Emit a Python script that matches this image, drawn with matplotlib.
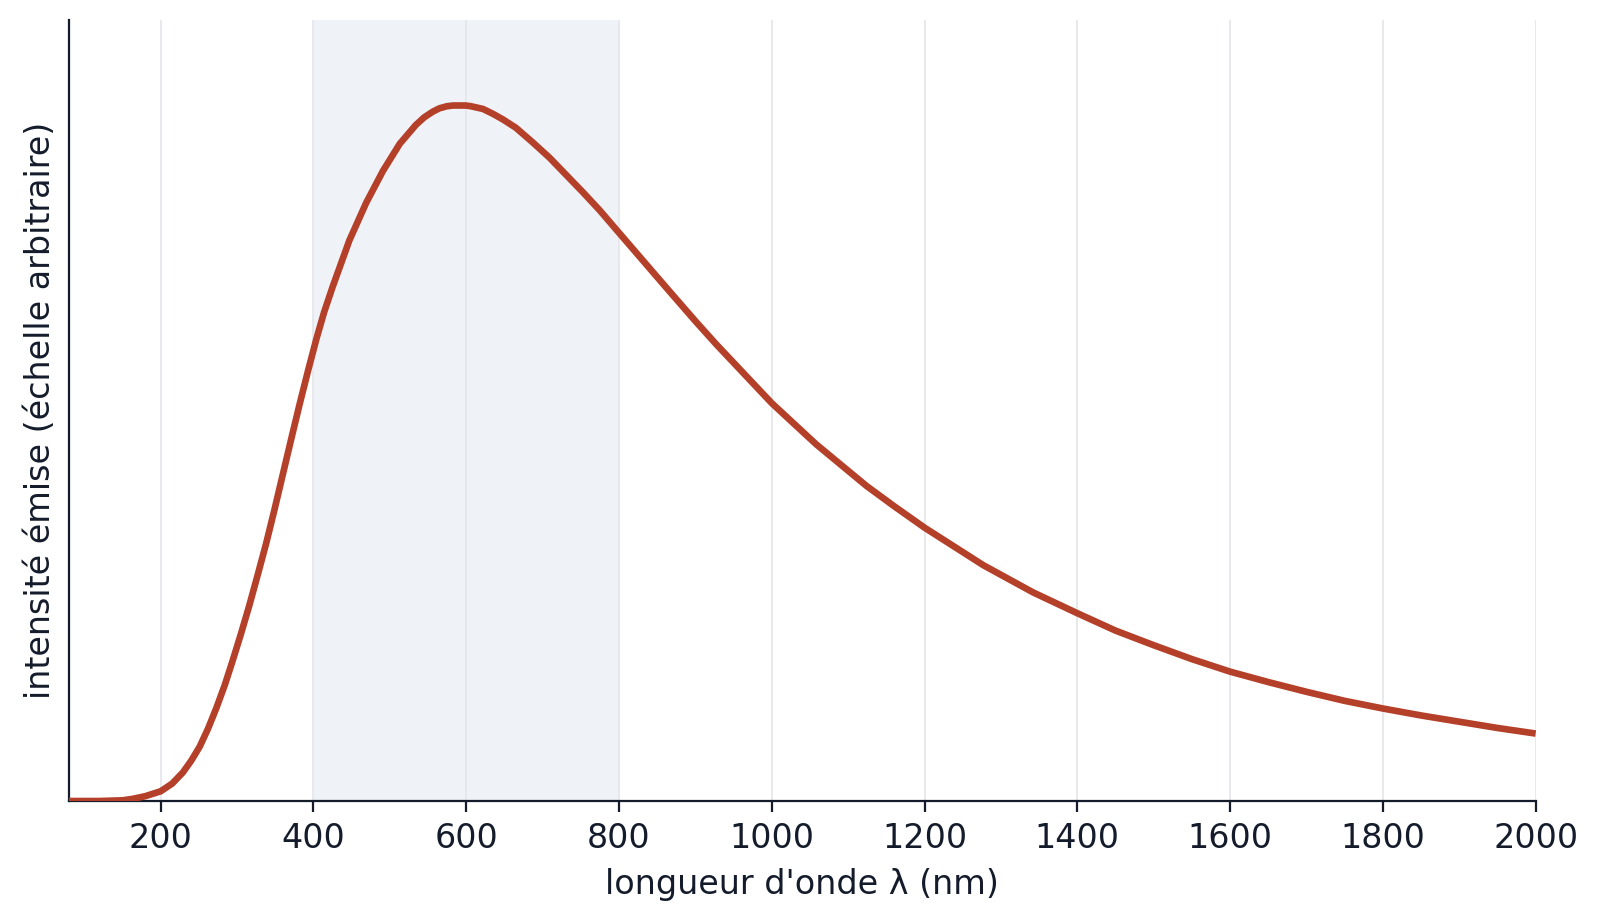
import matplotlib
matplotlib.use("Agg")
from matplotlib import pyplot as plt

# Values (normalised so the peak is 1).
wavelengths = [80, 120, 150, 163, 180, 200, 215, 229, 240, 251, 262, 273,
               284, 294, 305, 316, 327, 338, 349, 360, 371, 382, 393, 404,
               414, 425, 447, 469, 491, 513, 534, 545, 556, 565, 575, 583,
               591, 599, 606, 614, 622, 635, 648, 665, 687, 709, 753, 775,
               800, 840, 862, 900, 927, 1000, 1058, 1124, 1160, 1200, 1277,
               1342, 1400, 1450, 1500, 1550, 1600, 1650, 1700, 1750, 1800,
               1850, 1900, 1950, 2000]
intensity = [0.0, 0.0, 0.001, 0.003, 0.007, 0.014, 0.025, 0.041, 0.058,
             0.078, 0.104, 0.134, 0.167, 0.201, 0.240, 0.281, 0.325, 0.370,
             0.419, 0.470, 0.521, 0.571, 0.619, 0.665, 0.703, 0.739, 0.806,
             0.860, 0.906, 0.945, 0.972, 0.983, 0.991, 0.996, 0.999, 1.0,
             1.0, 1.0, 0.999, 0.997, 0.995, 0.988, 0.980, 0.968, 0.947,
             0.925, 0.875, 0.849, 0.817, 0.766, 0.738, 0.690, 0.657, 0.572,
             0.513, 0.453, 0.424, 0.393, 0.339, 0.300, 0.270, 0.245, 0.224,
             0.204, 0.186, 0.171, 0.157, 0.144, 0.133, 0.123, 0.114, 0.105,
             0.097]
visible_band = (400, 800)
x_ticks = [200, 400, 600, 800, 1000, 1200, 1400, 1600, 1800, 2000]

text_color = '#141b2b'
plt.rcParams['font.family'] = ['DejaVu Sans']

fig = plt.figure(figsize=(8.005, 4.62), dpi=200)
ax = fig.add_axes([0.0431, 0.1331, 0.9161, 0.8453])

# Visible range shading, then grid, then the curve.
ax.axvspan(visible_band[0], visible_band[1], color='#eff3f8', lw=0, zorder=0)
for t in x_ticks:
    ax.axvline(t, color='#e3e5e9', lw=0.6, zorder=1)
ax.plot(wavelengths, intensity, color='#b5402a', lw=2.4, zorder=3,
        solid_capstyle='butt', solid_joinstyle='round')

ax.set_xlim(80, 2000)
ax.set_ylim(0, 1.123)
ax.set_xticks(x_ticks)
ax.set_yticks([])

for side in ('top', 'right'):
    ax.spines[side].set_visible(False)
for side in ('left', 'bottom'):
    ax.spines[side].set_color(text_color)
    ax.spines[side].set_linewidth(0.8)

ax.tick_params(axis='x', colors=text_color, labelsize=12, length=3.8,
               width=0.8, pad=3.6)
ax.set_xlabel("longueur d'onde λ (nm)", fontsize=12, color=text_color,
              labelpad=5)
ax.set_ylabel("intensité émise (échelle arbitraire)", fontsize=12,
              color=text_color, labelpad=4.5)

fig.savefig('out.png', dpi=200)
